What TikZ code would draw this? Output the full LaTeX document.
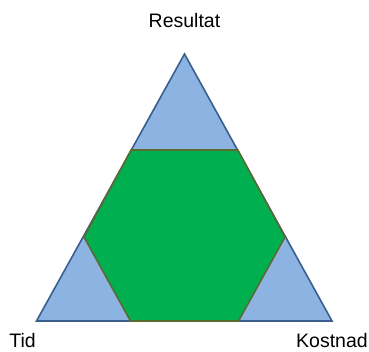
\documentclass[tikz,border=0pt]{standalone}
\usepackage{fontspec}
\setmainfont{Liberation Sans}
\definecolor{cornerblue}{HTML}{8DB3E2}
\definecolor{edgeblue}{HTML}{3A5F8F}
\definecolor{hexgreen}{HTML}{00B050}
\definecolor{hexedge}{HTML}{5A6B30}
\begin{document}
\begin{tikzpicture}[x=1pt,y=-1pt,
  label/.style={font=\fontsize{19.5}{23}\selectfont, inner sep=0pt},
  outer/.style={fill=cornerblue, draw=edgeblue, line width=1.6pt, line join=miter},
  inner/.style={fill=hexgreen, draw=hexedge, line width=1.6pt, line join=miter}]
\useasboundingbox (0,0) rectangle (369,351);
% outer triangle
\coordinate (top) at (184.5,54);
\coordinate (bl) at (36.5,321);
\coordinate (br) at (332,321);
\draw[outer] (top) -- (br) -- (bl) -- cycle;
% central hexagon
\coordinate (h1) at (131.2,150);
\coordinate (h2) at (237.8,150);
\coordinate (h3) at (285,237);
\coordinate (h4) at (238.5,321);
\coordinate (h5) at (130.5,321);
\coordinate (h6) at (84,237);
\draw[inner] (h1) -- (h2) -- (h3) -- (h4) -- (h5) -- (h6) -- cycle;
% labels
\node[label] (res) at (184.5,21) {Resultat};
\node[label] (tid) at (22.5,341) {Tid};
\node[label] (kost) at (332,341) {Kostnad};
\end{tikzpicture}
\end{document}
